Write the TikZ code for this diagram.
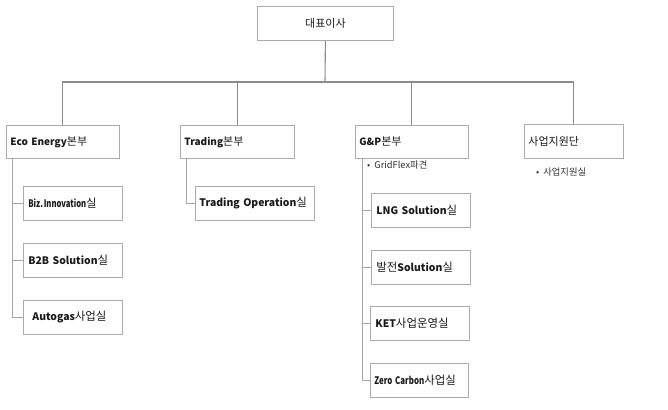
\documentclass[tikz,border=0pt]{standalone}
\usepackage{fontspec}
\setmainfont{Noto Sans CJK KR}
\newcommand{\kr}[1]{{\mdseries\scalebox{1.1}{#1}}}
\newcommand{\cond}[2][0.8]{\scalebox{#1}[1]{#2}}
\definecolor{busgray}{HTML}{8C8C8C}
\definecolor{subgray}{HTML}{A6A6A6}
\definecolor{boxgray}{HTML}{ABABAB}
\definecolor{txt}{HTML}{1A1A1A}
\begin{document}
\begin{tikzpicture}[x=1pt,y=-1pt,
  box/.style={draw=boxgray, line width=0.8pt, minimum height=34pt, inner xsep=4pt,
    align=left, anchor=north west, font=\fontsize{10}{12}\selectfont\bfseries, text=txt},
  cbox/.style={box, inner xsep=5pt, font=\fontsize{10.4}{12}\selectfont\bfseries},
  bus/.style={draw=busgray, line width=1.1pt},
  sub/.style={draw=subgray, line width=0.8pt},
  note/.style={anchor=west, inner sep=0pt, font=\fontsize{9.3}{11}\selectfont, text=black!80}]
\useasboundingbox (0,0) rectangle (668,409);
\fill[white] (0,0) rectangle (668,409);
% top
\node[box, align=center, text width=128pt] (ceo) at (257,6) {\kr{대표이사}};
% level 2
\node[box, minimum height=33pt, text width=105pt] (eco) at (6,125) {Eco Energy\kr{본부}};
\node[box, minimum height=33pt, text width=106pt] (trd) at (180,125) {Trading\kr{본부}};
\node[box, minimum height=33pt, text width=105pt] (gp) at (355,125) {G\&P\kr{본부}};
\node[box, text width=91pt] (sup) at (524,124) {\kr{사업지원단}};
% eco children
\node[cbox, text width=89pt] (biz) at (23,186) {\cond[0.74]{Biz.\hspace{1pt}Innovation}\kr{실}};
\node[cbox, text width=89pt] (b2b) at (23,243) {B2B Solution\kr{실}};
\node[cbox, text width=89pt] (auto) at (23,300) {\hspace{4pt}Autogas\kr{사업실}};
% trading child
\node[cbox, inner xsep=4pt, text width=111pt] (trop) at (195,186) {Trading Operation\kr{실}};
% gp children
\node[cbox, text width=89pt] (lng) at (371,193) {LNG Solution\kr{실}};
\node[cbox, text width=89pt] (bal) at (371,250) {\kr{발전}Solution\kr{실}};
\node[cbox, text width=89pt] (ket) at (370,306) {KET\kr{사업운영실}};
\node[cbox, inner xsep=4pt, text width=90pt] (zero) at (370,363) {\cond[0.76]{Zero Carbon}\kr{사업실}};
% notes
\node[note] (gfx) at (367,165) {•\hspace{4pt}GridFlex파견};
\node[note] (sja) at (536,172) {•\hspace{4pt}사업지원실};
% bus
\coordinate (bus) at (325,82);
\draw[bus] (ceo.south) -- (bus);
\draw[bus] (eco.north) |- (bus);
\draw[bus] (trd.north) |- (bus);
\draw[bus] (gp.north) |- (bus);
\draw[bus] (sup.north) |- (bus);
% eco branch
\coordinate (ecoL) at ([xshift=6pt]eco.south west);
\draw[sub] (ecoL) |- (auto.west);
\draw[sub] (biz.west) -- (biz.west -| ecoL);
\draw[sub] (b2b.west) -- (b2b.west -| ecoL);
% trading branch
\coordinate (trdL) at ([xshift=6pt]trd.south west);
\draw[sub] (trdL) |- (trop.west);
% gp branch
\coordinate (gpL) at ([xshift=7pt]gp.south west);
\draw[sub] (gpL) |- (zero.west);
\draw[sub] (lng.west) -- (lng.west -| gpL);
\draw[sub] (bal.west) -- (bal.west -| gpL);
\draw[sub] (ket.west) -- (ket.west -| gpL);
\end{tikzpicture}
\end{document}
